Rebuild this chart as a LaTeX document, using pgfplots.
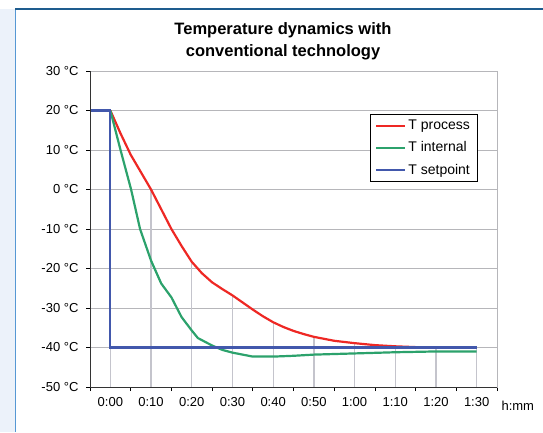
\documentclass[border=0pt]{standalone}
\usepackage{pgfplots}
\pgfplotsset{compat=1.18}
\usepackage{fontspec}
\setmainfont{Liberation Sans}
\definecolor{tproc}{RGB}{238,40,36}
\definecolor{tint}{RGB}{44,162,108}
\definecolor{tset}{RGB}{66,88,172}
\definecolor{gridc}{RGB}{182,182,186}
\definecolor{dropc}{RGB}{196,196,204}
\definecolor{frametop}{RGB}{30,92,142}
\definecolor{frameleft}{RGB}{86,152,212}
\definecolor{framefill}{RGB}{236,242,250}
\begin{document}
\begin{tikzpicture}[x=1pt,y=1pt]
\path[use as bounding box] (0,0) rectangle (543,432);
% frame
\fill[framefill] (0,0) rectangle (15,423);
\draw[frameleft, line width=1.5pt] (15.5,0) -- (15.5,423);
\draw[frametop, line width=1.5pt] (15,423) -- (543,423);
% title
\node[font=\fontsize{16.5}{18}\selectfont\bfseries] at (283,402) {Temperature dynamics with};
\node[font=\fontsize{16.5}{18}\selectfont\bfseries] at (283,380) {conventional technology};
\begin{axis}[
  at={(90pt,45pt)}, anchor=south west,
  scale only axis, width=407pt, height=316pt,
  xmin=-5, xmax=95, ymin=-50, ymax=30,
  xtick={-5,5,...,95}, x tick label as interval,
  xticklabels={0:00,0:10,0:20,0:30,0:40,0:50,1:00,1:10,1:20,1:30},
  ytick={-50,-40,...,30},
  yticklabels={-50 °C,-40 °C,-30 °C,-20 °C,-10 °C,0 °C,10 °C,20 °C,30 °C},
  tick label style={font=\fontsize{13}{15}\selectfont},
  xticklabel style={yshift=-3pt},
  yticklabel style={xshift=-4pt},
  xtick pos=bottom, ytick pos=left, tick align=outside,
  major tick length=4pt, tick style={black, line width=0.8pt},
  ymajorgrids, grid style={gridc, line width=1pt},
  axis line style={gridc, line width=1pt},
  unbounded coords=jump,
  legend style={at={(0.688,0.864)}, anchor=north west,
    font=\fontsize{14}{16}\selectfont, row sep=6.5pt, inner xsep=5pt, inner ysep=4pt,
    legend cell align=left},
  legend image code/.code={\draw[#1] (0pt,0pt) -- (29pt,0pt);},
]
% drop lines from T process
\addplot[dropc, line width=1.3pt, forget plot] coordinates {
(0,-50) (0,20) (0,nan)
(10,-50) (10,0) (10,nan)
(20,-50) (20,-18.3) (20,nan)
(30,-50) (30,-26.8) (30,nan)
(40,-50) (40,-33.6) (40,nan)
(50,-50) (50,-37.3) (50,nan)
(60,-50) (60,-38.9) (60,nan)
(70,-50) (70,-39.7) (70,nan)
(80,-50) (80,-40) (80,nan)
(90,-50) (90,-40)
};
\addplot[color=tproc, line width=2.2pt] coordinates {
(0,20) (2.5,14.2) (5,8.8) (7.5,4.4) (10,0) (12.5,-5) (15,-10) (17.5,-14.3)
(20,-18.3) (22.5,-21.2) (25,-23.5) (27.5,-25.2) (30,-26.8) (32.5,-28.6)
(35,-30.4) (37.5,-32.1) (40,-33.6) (42.5,-34.8) (45,-35.8) (47.5,-36.6)
(50,-37.3) (55,-38.3) (60,-38.9) (65,-39.4) (70,-39.7) (75,-39.9) (80,-40) (90,-40)
};
\addlegendentry{T process}
\addplot[color=tint, line width=2.2pt] coordinates {
(0,20) (2.5,10) (5.1,0) (7.3,-10) (10,-18) (12.5,-23.8) (15,-27.3) (17.5,-32.3)
(20,-35.7) (21.5,-37.6) (25,-39.5) (27.5,-40.6) (30,-41.3) (35,-42.3) (40,-42.3)
(45,-42.1) (50,-41.8) (60,-41.5) (70,-41.2) (80,-41) (90,-41)
};
\addlegendentry{T internal}
\addplot[color=tset, line width=2.2pt] coordinates {
(-5,20) (0,20) (0,-40) (90,-40)
};
\addlegendentry{T setpoint}
\draw[black!80, line width=1pt] (rel axis cs:0,1) -- (rel axis cs:0,0) -- (rel axis cs:1,0);
\end{axis}
\node[font=\fontsize{13}{15}\selectfont, anchor=west] at (498,26) {h:mm};
\end{tikzpicture}
\end{document}
